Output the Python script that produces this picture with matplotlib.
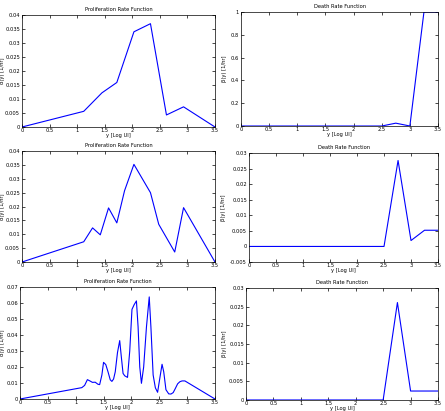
import matplotlib
matplotlib.use("Agg")
import matplotlib.pyplot as plt
from matplotlib.ticker import FuncFormatter
import numpy as np

# proliferation curves (top, middle, bottom)
a1_x = [0, 1.12, 1.45, 1.72, 2.03, 2.33, 2.62, 2.93, 3.5]
a1_y = [0, 0.0056, 0.0122, 0.0159, 0.034, 0.0369, 0.0043, 0.0072, 0]

a2_x = [0, 1.12, 1.28, 1.42, 1.57, 1.72, 1.86, 2.03, 2.33, 2.48, 2.77, 2.93, 3.5]
a2_y = [0, 0.0073, 0.0123, 0.0098, 0.0195, 0.0141, 0.0257, 0.0352, 0.025, 0.0136, 0.0036, 0.0196, 0]

a3_x = [0, 1.11, 1.16, 1.21, 1.26, 1.30, 1.35, 1.40, 1.43, 1.47, 1.50, 1.54, 1.58,
        1.62, 1.65, 1.68, 1.71, 1.75, 1.79, 1.82, 1.85, 1.88, 1.93, 1.97, 2.01,
        2.05, 2.09, 2.12, 2.15, 2.18, 2.22, 2.27, 2.32, 2.35, 2.39, 2.43, 2.47,
        2.51, 2.55, 2.58, 2.62, 2.67, 2.71, 2.75, 2.78, 2.83, 2.87, 2.91, 2.96, 3.5]
a3_y = [0, 0.0071, 0.0085, 0.0121, 0.0112, 0.0104, 0.0105, 0.0092, 0.0090, 0.0150, 0.0229,
        0.0215, 0.0170, 0.0120, 0.0110, 0.0125, 0.0170, 0.0290, 0.0365, 0.0260, 0.0160,
        0.0145, 0.0135, 0.0300, 0.0560, 0.0590, 0.0613, 0.0450, 0.0200, 0.0098, 0.0200,
        0.0450, 0.0638, 0.0450, 0.0150, 0.0070, 0.0042, 0.0130, 0.0217, 0.0170, 0.0058,
        0.0032, 0.0031, 0.0040, 0.0060, 0.0095, 0.0108, 0.0113, 0.0113, 0]

# death curves
b1_x = [0, 2.5, 2.75, 3.0, 3.25, 3.5]
b1_y = [0, 0, 0.025, 0, 1, 1]

b2_x = [0, 2.5, 2.76, 3.0, 3.25, 3.5]
b2_y = [0, 0, 0.0276, 0.0019, 0.0052, 0.0052]

b3_x = [0, 2.5, 2.76, 3.0, 3.5]
b3_y = [0, 0, 0.0261, 0.0024, 0.0024]

xticks = [0, 0.5, 1, 1.5, 2, 2.5, 3, 3.5]

fig = plt.figure(figsize=(4.45, 4.11), dpi=100)

fs = 3.7
fmt = FuncFormatter(lambda v, p: "%g" % round(v, 6))

# rect, x, y, title, ylabel, ylim, yticks, ylabel x (axes coords)
panels = [
    ([0.0494, 0.691, 0.4337, 0.2725], a1_x, a1_y, "Proliferation Rate Function",
     "\u03b1(y) [1/hr]", (0, 0.04), np.arange(0, 0.0401, 0.005), -0.088),
    ([0.5416, 0.6934, 0.4427, 0.2774], b1_x, b1_y, "Death Rate Function",
     "\u03b2(y) [1/hr]", (0, 1), np.arange(0, 1.01, 0.2), -0.071),
    ([0.0494, 0.3625, 0.4337, 0.270], a2_x, a2_y, "Proliferation Rate Function",
     "\u03b1(y) [1/hr]", (0, 0.04), np.arange(0, 0.0401, 0.005), -0.088),
    ([0.5596, 0.3625, 0.4247, 0.2652], b2_x, b2_y, "Death Rate Function",
     "\u03b2(y) [1/hr]", (-0.005, 0.03), np.arange(-0.005, 0.0301, 0.005), -0.12),
    ([0.0449, 0.0292, 0.4382, 0.2725], a3_x, a3_y, "Proliferation Rate Function",
     "\u03b1(y) [1/hr]", (0, 0.07), np.arange(0, 0.0701, 0.01), -0.077),
    ([0.5528, 0.0268, 0.4315, 0.2725], b3_x, b3_y, "Death Rate Function",
     "\u03b2(y) [1/hr]", (0, 0.03), np.arange(0, 0.0301, 0.005), -0.10),
]

for rect, x, y, title, ylab, ylim, yt, ylx in panels:
    ax = fig.add_axes(rect)
    ax.plot(x, y, color=(0, 0, 1), lw=0.8)
    ax.set_xlim(0, 3.5)
    ax.set_ylim(*ylim)
    ax.set_xticks(xticks)
    ax.set_yticks(yt)
    ax.xaxis.set_major_formatter(fmt)
    ax.yaxis.set_major_formatter(fmt)
    ax.tick_params(direction="in", length=2, width=0.5, labelsize=fs, pad=1.5,
                   top=True, right=True)
    ax.tick_params(axis="x", pad=1)
    for s in ax.spines.values():
        s.set_linewidth(0.5)
    ax.set_title(title, fontsize=fs, pad=3)
    ax.set_xlabel("y [Log UI]", fontsize=fs, labelpad=0)
    ax.set_ylabel(ylab, fontsize=fs)
    ax.yaxis.set_label_coords(ylx, 0.5)

fig.savefig("out.png", dpi=100)
